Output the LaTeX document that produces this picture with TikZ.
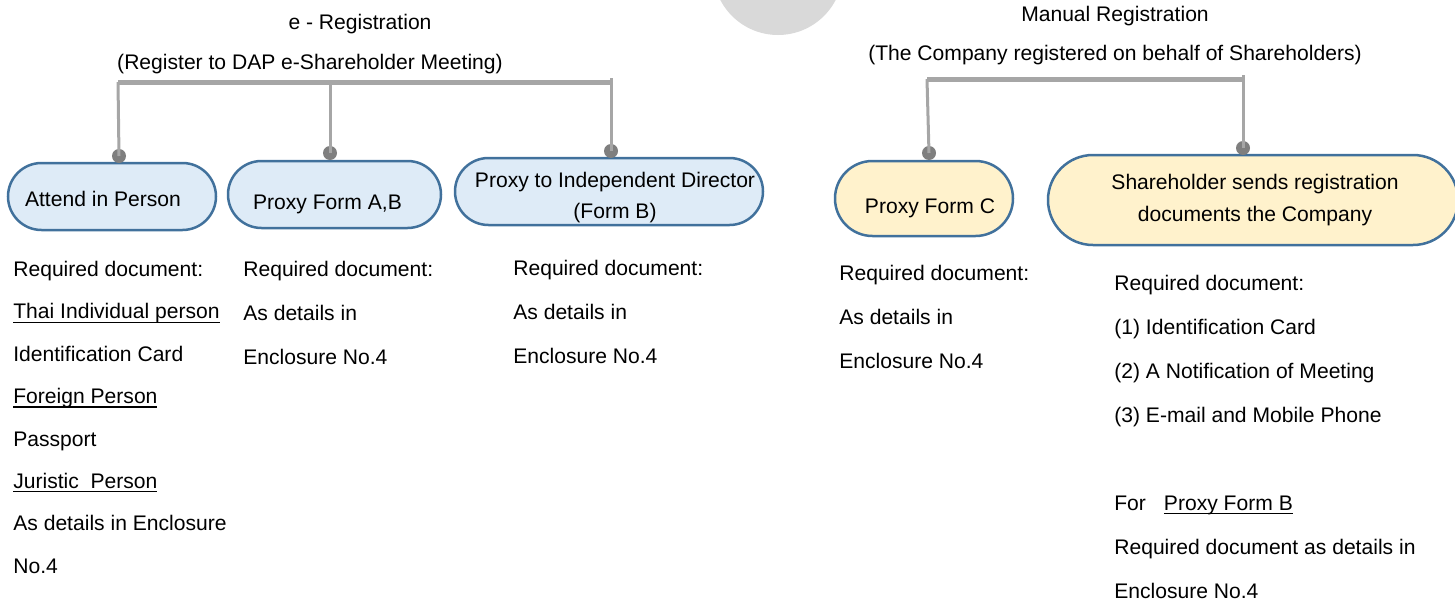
\documentclass[tikz,border=0pt]{standalone}
\usepackage{fontspec}
\setmainfont{Liberation Sans}
\usetikzlibrary{positioning,shapes.misc}

\newlength{\pxu}\setlength{\pxu}{0.02cm}
\definecolor{boxline}{HTML}{41719C}
\definecolor{bluefill}{HTML}{DEEBF7}
\definecolor{yellowfill}{HTML}{FFF2CC}
\definecolor{bargray}{HTML}{A6A6A6}
\definecolor{knobgray}{HTML}{7F7F7F}
\definecolor{blobgray}{HTML}{D9D9D9}
% underline that sits close to the baseline
\newcommand{\ulabel}[1]{\setbox0\hbox{#1}\rlap{\rule[-2.2pt]{\wd0}{0.6pt}}\box0}

\begin{document}
\begin{tikzpicture}[x=0.02cm, y=-0.02cm,
    font=\fontsize{12}{18}\selectfont,
    pill/.style={rounded rectangle, draw=boxline, line width=2.5\pxu, inner sep=0pt},
    bluepill/.style={pill, fill=bluefill},
    yellowpill/.style={pill, fill=yellowfill},
    pilltext/.style={align=center, inner sep=0pt},
    knob/.style={circle, fill=knobgray, inner sep=0pt, minimum size=14\pxu},
    bar/.style={draw=bargray, line width=5\pxu},
    stem/.style={draw=bargray, line width=3\pxu},
    doclines/.style={align=left, inner sep=0pt, anchor=north west}]
  \useasboundingbox (0,0) rectangle (1455,602);
  \fill[blobgray] (778,-30) circle[radius=65];

  % headings
  \node (eregA) at (360,24) {e - Registration};
  \node (eregB) at (310,64) {(Register to DAP e-Shareholder Meeting)};
  \node (manA) at (1115,16) {Manual Registration};
  \node (manB) at (1115,55) {(The Company registered on behalf of Shareholders)};

  % boxes
  \node[bluepill, minimum width=208\pxu, minimum height=67\pxu] (attend) at (112,196.5) {};
  \node[bluepill, minimum width=213\pxu, minimum height=67\pxu] (proxyab) at (334.5,194.5) {};
  \node[bluepill, minimum width=308\pxu, minimum height=67\pxu] (proxyind) at (609,191.5) {};
  \node[yellowpill, minimum width=178\pxu, minimum height=75\pxu] (proxyc) at (924,198.5) {};
  \node[yellowpill, minimum width=410\pxu, minimum height=90\pxu] (sends) at (1253,200) {};

  \node[pilltext] (attendT) at ([shift={(-9,2)}]attend.center) {Attend in Person};
  \node[pilltext] (proxyabT) at ([shift={(-7,10)}]proxyab.center) {Proxy Form A,B};
  \node[pilltext] (proxyindT) at ([shift={(6,6)}]proxyind.center)
    {Proxy to Independent Director\\(Form B)};
  \node[pilltext] (proxycT) at ([shift={(6,10)}]proxyc.center) {Proxy Form C};
  \node[pilltext] (sendsT) at ([shift={(2,0)}]sends.center)
    {Shareholder sends registration\\documents the Company};

  % knobs
  \node[knob] (kA) at (119,156) {};
  \node[knob] (kB) at (330,153) {};
  \node[knob] (kC) at (611,151) {};
  \node[knob] (kD) at (929,153) {};
  \node[knob] (kE) at (1243,148) {};

  \coordinate (barL) at (118,82);
  \coordinate (barR) at (611,82);
  \coordinate (manL) at (927,79);
  \coordinate (manR) at (1243,79);

  % connectors
  \draw[bar] (barL) -- (barR);
  \draw[stem] (barL) -- (kA.center);
  \draw[stem] (kB |- barL) -- (kB.center);
  \draw[stem] ([yshift=4\pxu]barR) -- (kC.center);
  \draw[bar] (manL) -- (manR);
  \draw[stem] (manL) -- (kD.center);
  \draw[stem] ([yshift=4\pxu]manR) -- (kE.center);

  % required documents
  \node[doclines, font=\fontsize{12}{24.1}\selectfont] (docA) at (13,261)
    {Required document:\\
     \ulabel{Thai Individual person}\\
     Identification Card\\
     \ulabel{Foreign Person}\\
     Passport\\
     \ulabel{Juristic\ \ Person}\\
     As details in Enclosure\\
     No.4};
  \node[doclines, font=\fontsize{12}{25.1}\selectfont] (docB) at (243,261)
    {Required document:\\As details in\\Enclosure No.4};
  \node[doclines, font=\fontsize{12}{25}\selectfont] (docC) at (513,260)
    {Required document:\\As details in\\Enclosure No.4};
  \node[doclines, font=\fontsize{12}{25.1}\selectfont] (docD) at (839,265)
    {Required document:\\As details in\\Enclosure No.4};
  \node[doclines, font=\fontsize{12}{25}\selectfont] (docE) at (1114,275)
    {Required document:\\
     (1) Identification Card\\
     (2) A Notification of Meeting\\
     (3) E-mail and Mobile Phone\\[25pt]
     For\hspace{18\pxu}\ulabel{Proxy Form B}\\
     Required document as details in\\
     Enclosure No.4};
\end{tikzpicture}
\end{document}
